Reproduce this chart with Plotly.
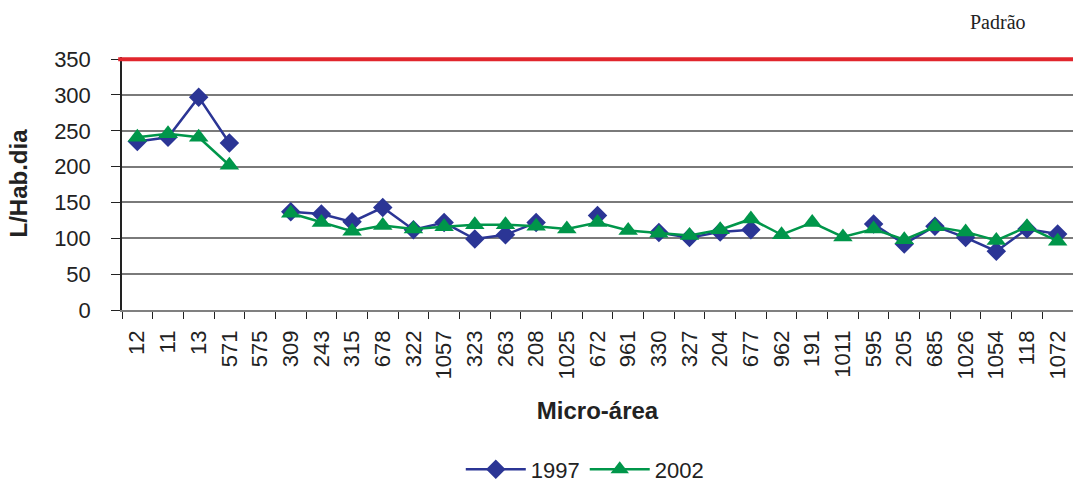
import plotly.graph_objects as go

categories = ["12", "11", "13", "571", "575", "309", "243", "315", "678", "322",
              "1057", "323", "263", "208", "1025", "672", "961", "330", "327", "204",
              "677", "962", "191", "1011", "595", "205", "685", "1026", "1054", "118", "1072"]
v1997 = [235, 241, 297, 233, None, 137, 134, 123, 143, 112,
         122, 99, 105, 122, None, 132, None, 108, 101, 109,
         112, None, None, None, 120, 92, 117, 101, 82, 113, 106]
v2002 = [241, 246, 241, 202, None, 135, 122, 110, 118, 113,
         116, 119, 119, 117, 113, 122, 111, 107, 104, 112,
         127, 105, 122, 102, 113, 98, 116, 109, 97, 116, 96]
padrao = 350
y_ticks = [0, 50, 100, 150, 200, 250, 300, 350]

blue = "#2B3595"
green = "#00964A"
red = "#E1262D"

fig = go.Figure()
fig.add_trace(go.Scatter(
    x=categories, y=v1997, name="1997", mode="lines+markers",
    line=dict(color=blue, width=2.5),
    marker=dict(symbol="diamond", size=15, color=blue),
))
fig.add_trace(go.Scatter(
    x=categories, y=v2002, name="2002", mode="lines+markers",
    line=dict(color=green, width=2.5),
    marker=dict(symbol="triangle-up", size=17, color=green),
))

fig.add_shape(type="line", xref="paper", yref="y", x0=-0.004, x1=1,
              y0=padrao, y1=padrao, line=dict(color=red, width=4), layer="above")
fig.add_annotation(text="Padrão", xref="paper", yref="paper", x=0.921, y=1.14,
                   yanchor="middle", xanchor="center",
                   showarrow=False, font=dict(family="Liberation Serif", size=20, color="#222"))

fig.update_layout(
    width=1073, height=489,
    margin=dict(l=122, r=0, t=57, b=179),
    paper_bgcolor="white", plot_bgcolor="white",
    font=dict(family="Liberation Sans, Arial", color="#222"),
    legend=dict(orientation="h", xref="container", yref="container",
                x=0.545, y=0.04, xanchor="center", yanchor="middle",
                font=dict(size=22), itemwidth=60),
)
fig.update_xaxes(
    type="category", categoryorder="array", categoryarray=categories,
    tickangle=-90, tickfont=dict(size=22), tickson="boundaries",
    ticks="outside", ticklen=7, tickcolor="#222", tickwidth=1.2,
    showgrid=False, showline=True, linecolor="#808080", linewidth=1.5,
    range=[-0.5, len(categories) - 0.5],
    ticklabelstandoff=10,
    title=dict(text="<b>Micro-área</b>", font=dict(size=24), standoff=24),
)
fig.update_yaxes(
    range=[0, 353], tickvals=y_ticks, tickfont=dict(size=22),
    ticks="outside", ticklen=9, tickcolor="#222", tickwidth=1.2,
    showgrid=True, gridcolor="#7a7a7a", gridwidth=1.5,
    showline=True, linecolor="#222", linewidth=1.5, zeroline=False,
    ticklabelstandoff=16,
    title=dict(text="<b>L/Hab.dia</b>", font=dict(size=24), standoff=20),
)

fig.write_html("out.html")
